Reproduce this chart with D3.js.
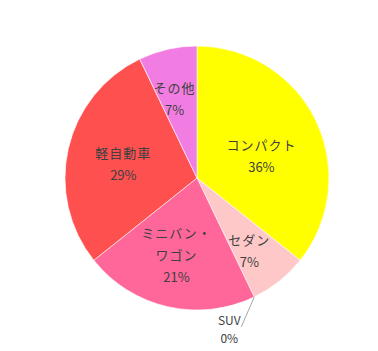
<!DOCTYPE html>
<html lang="ja">
<head>
<meta charset="UTF-8">
<title>車種別構成</title>
<script src="https://cdnjs.cloudflare.com/ajax/libs/d3/7.8.5/d3.min.js"></script>
<style>
    * { margin: 0; padding: 0; }
    body { background: #fff; width: 378px; height: 351px; overflow: hidden; }
    svg text { font-family: "Noto Sans CJK JP", "Noto Sans", sans-serif; fill: #404040; }
</style>
</head>
<body>
<div id="chart"></div>
<script>
    // data (counts; percentages are derived)
    const categories = ["コンパクト", "セダン", "SUV", "ミニバン・ワゴン", "軽自動車", "その他"];
    const counts = [10, 2, 0, 6, 8, 2];
    const colors = ["#FFFF00", "#FFC8C8", "#C0C0C0", "#FF6699", "#FF5050", "#F27DE2"];
    const labelLines = [["コンパクト"], ["セダン"], ["SUV"], ["ミニバン・", "ワゴン"], ["軽自動車"], ["その他"]];

    const width = 378, height = 351;
    const cx = 197, cy = 178, radius = 132;

    // label placement: distance from centre and angle nudge (deg) per slice
    const labelRadius = [68, 90, 0, 80, 75, 82];
    const labelNudge = [7, 3, 0, 2, -2, -3];

    const svg = d3.select("#chart").append("svg")
        .attr("width", width)
        .attr("height", height);

    const g = svg.append("g").attr("transform", `translate(${cx},${cy})`);

    const data = categories.map((c, i) => ({ name: c, value: counts[i], color: colors[i], lines: labelLines[i], idx: i }));
    const total = d3.sum(counts);

    const pie = d3.pie().sort(null).value(d => d.value);
    const arcs = pie(data);
    const arc = d3.arc().innerRadius(0).outerRadius(radius);

    g.selectAll("path.slice")
        .data(arcs.filter(d => d.data.value > 0))
        .enter()
        .append("path")
        .attr("class", "slice")
        .attr("d", arc)
        .attr("fill", d => d.data.color)
        .attr("stroke", "#fff")
        .attr("stroke-width", 0.6);

    const fmt = v => Math.round(v / total * 100) + "%";

    arcs.forEach(d => {
        const i = d.data.idx;
        const lines = d.data.lines.concat([fmt(d.data.value)]);
        if (d.data.value === 0) {
            // zero slice: label outside with a leader line
            const a = d.startAngle;
            const x0 = radius * Math.sin(a), y0 = -radius * Math.cos(a);
            g.append("line")
                .attr("x1", x0).attr("y1", y0)
                .attr("x2", x0 - 13).attr("y2", y0 + 30)
                .attr("stroke", "#A6A6A6")
                .attr("stroke-width", 1);
            const t = g.append("text")
                .attr("text-anchor", "middle")
                .style("font-size", "12px");
            lines.forEach((ln, k) => {
                t.append("tspan")
                    .attr("x", x0 - 25)
                    .attr("y", y0 + 28 + k * 18)
                    .text(ln);
            });
            return;
        }
        const mid = (d.startAngle + d.endAngle) / 2 + labelNudge[i] * Math.PI / 180;
        const r = labelRadius[i];
        const lx = r * Math.sin(mid), ly = -r * Math.cos(mid);
        const lh = 22;
        const top = ly - (lines.length - 1) * lh / 2;
        const t = g.append("text")
            .attr("text-anchor", "middle")
            .style("font-size", "13px");
        lines.forEach((ln, k) => {
            t.append("tspan")
                .attr("x", lx)
                .attr("y", top + k * lh + 5)
                .style("letter-spacing", /%$/.test(ln) ? "0px" : "1px")
                .text(ln);
        });
    });
</script>
</body>
</html>
